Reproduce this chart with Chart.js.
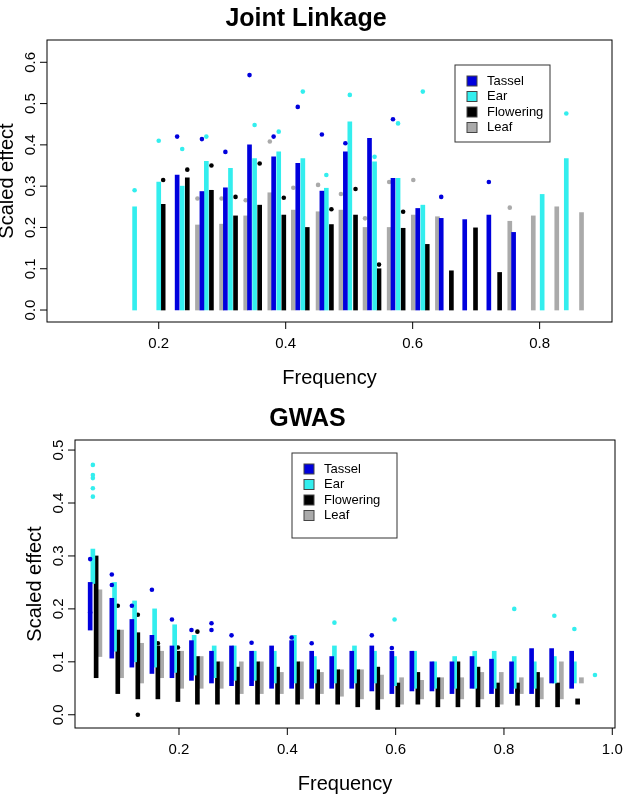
<!DOCTYPE html>
<html>
<head>
<meta charset="utf-8">
<script src="https://cdn.jsdelivr.net/npm/chart.js@4.4.0/dist/chart.umd.min.js"></script>
<style>
  body { margin: 0; background: #fff; }
  .box { width: 625px; height: 400px; position: relative; }
</style>
</head>
<body>
<div class="box"><canvas id="jl"></canvas></div>
<div class="box"><canvas id="gwas"></canvas></div>
<script>
// ===================== DADOS =====================
const traits = ["Tassel", "Ear", "Flowering", "Leaf"];
const traitColors = ["#0000dd", "#33eeee", "#000000", "#aaaaaa"];

// Joint linkage: [frequency, dense top, highest point]
const jlTassel = [[0.229,0.327,0.42],[0.268,0.287,0.414],[0.305,0.296,0.383],[0.343,0.40,0.569],[0.381,0.371,0.42],[0.419,0.355,0.492],[0.457,0.288,0.425],[0.494,0.383,0.404],[0.532,0.416,null],[0.569,0.319,0.462],[0.608,0.246,null],[0.645,0.222,0.274],[0.682,0.219,null],[0.720,0.23,0.31],[0.759,0.188,null]];
const jlEar = [[0.162,0.25,0.29],[0.200,0.31,0.41],[0.237,0.30,0.39],[0.275,0.36,0.42],[0.313,0.343,null],[0.351,0.367,0.448],[0.389,0.383,0.432],[0.427,0.367,0.529],[0.464,0.295,0.327],[0.501,0.456,0.521],[0.540,0.359,0.371],[0.577,0.319,0.452],[0.616,0.254,0.529],[0.804,0.28,null],[0.842,0.367,0.476]];
const jlFlowering = [[0.207,0.256,0.315],[0.245,0.32,0.34],[0.283,0.29,0.35],[0.321,0.228,0.274],[0.359,0.254,0.355],[0.397,0.23,0.272],[0.434,0.20,null],[0.472,0.207,0.244],[0.510,0.23,0.293],[0.547,0.10,0.11],[0.585,0.198,0.238],[0.623,0.159,null],[0.661,0.095,null],[0.699,0.199,null],[0.737,0.091,null]];
const jlLeaf = [[0.261,0.206,0.27],[0.299,0.208,0.27],[0.337,0.228,0.266],[0.375,0.284,0.408],[0.412,0.242,0.296],[0.451,0.238,0.303],[0.487,0.242,0.281],[0.525,0.20,0.222],[0.563,0.20,0.31],[0.601,0.23,0.315],[0.639,0.226,null],[0.753,0.215,0.248],[0.790,0.228,null],[0.827,0.25,null],[0.866,0.236,null]];

// GWAS: frequency bins and [low, high] per trait
const gwasFreq = [0.036,0.076,0.113,0.150,0.187,0.223,0.260,0.297,0.334,0.371,0.408,0.445,0.482,0.519,0.556,0.593,0.630,0.667,0.704,0.741,0.777,0.814,0.851,0.888,0.925];
const gwasTassel = [[0.16,0.25],[0.107,0.22],[0.09,0.18],[0.078,0.15],[0.07,0.13],[0.065,0.14],[0.06,0.12],[0.055,0.13],[0.055,0.12],[0.05,0.13],[0.05,0.14],[0.05,0.12],[0.05,0.11],[0.05,0.12],[0.045,0.13],[0.04,0.12],[0.045,0.12],[0.045,0.10],[0.04,0.10],[0.05,0.11],[0.04,0.105],[0.04,0.10],[0.04,0.125],[0.06,0.125],[0.05,0.12]];
const gwasEar = [[0.248,0.313],[0.12,0.25],[0.10,0.215],[0.09,0.20],[0.08,0.17],[0.075,0.15],[0.07,0.13],[0.065,0.13],[0.065,0.12],[0.06,0.12],[0.06,0.15],[0.06,0.11],[0.06,0.13],[0.06,0.13],[0.06,0.12],[0.055,0.11],[0.05,0.12],[0.05,0.10],[0.05,0.11],[0.05,0.12],[0.05,0.12],[0.05,0.11],[0.05,0.10],[0.06,0.11],[0.06,0.10]];
const gwasFlowering = [[0.07,0.30],[0.04,0.16],[0.03,0.155],[0.03,0.13],[0.025,0.12],[0.02,0.11],[0.02,0.10],[0.02,0.09],[0.02,0.10],[0.02,0.09],[0.02,0.10],[0.02,0.085],[0.02,0.085],[0.015,0.085],[0.01,0.09],[0.015,0.06],[0.02,0.08],[0.015,0.07],[0.015,0.10],[0.015,0.09],[0.015,0.06],[0.018,0.06],[0.015,0.08],[0.015,0.06],[0.02,0.03]];
const gwasLeaf = [[0.11,0.236],[0.07,0.16],[0.06,0.135],[0.07,0.12],[0.05,0.12],[0.05,0.11],[0.05,0.10],[0.04,0.10],[0.04,0.10],[0.04,0.08],[0.03,0.10],[0.04,0.08],[0.035,0.085],[0.03,0.085],[0.03,0.075],[0.02,0.07],[0.03,0.065],[0.03,0.07],[0.03,0.07],[0.03,0.08],[0.02,0.08],[0.04,0.07],[0.03,0.07],[0.03,0.10],[0.06,0.07]];
// GWAS outlying points: [bin index, value]
const gwasTasselPts = [[0,0.294],[0,0.193],[1,0.265],[1,0.245],[2,0.206],[3,0.236],[4,0.18],[5,0.16],[6,0.173],[6,0.16],[7,0.15],[8,0.136],[10,0.146],[11,0.135],[14,0.15],[15,0.126]];
const gwasEarPts = [[0,0.472],[0,0.453],[0,0.447],[0,0.428],[0,0.412],[12,0.174],[15,0.18],[21,0.2],[23,0.187],[24,0.162]];
const gwasEarExtra = [[0.968,0.075]];
const gwasFloweringPts = [[1,0.206],[2,0.189],[2,0.0],[3,0.135],[4,0.127],[5,0.157],[21,0.045]];

// ===================== PLUGIN =====================
const frame = {
    id: "frame",
    afterDraw(chart, args, o) {
        const c = chart.ctx, a = chart.chartArea;
        const xs = chart.scales.x, ys = chart.scales.y;
        c.save();
        c.strokeStyle = "#000"; c.fillStyle = "#000"; c.lineWidth = 1;
        c.strokeRect(a.left, a.top, a.right - a.left, a.bottom - a.top);
        c.font = "15px 'Liberation Sans', Arial";
        c.textAlign = "center"; c.textBaseline = "middle";
        o.xTicks.forEach(v => {
            const x = xs.getPixelForValue(v);
            c.beginPath(); c.moveTo(x, a.bottom); c.lineTo(x, a.bottom + 7); c.stroke();
            c.fillText(String(v.toFixed(1)), x, a.bottom + 22);
        });
        o.yTicks.forEach(v => {
            const y = ys.getPixelForValue(v);
            c.beginPath(); c.moveTo(a.left, y); c.lineTo(a.left - 7, y); c.stroke();
            c.save(); c.translate(a.left - 16, y); c.rotate(-Math.PI / 2);
            c.fillText(v.toFixed(1), 0, 0); c.restore();
        });
        c.font = "20px 'Liberation Sans', Arial";
        c.fillText("Frequency", (a.left + a.right) / 2, a.bottom + 56);
        c.save(); c.translate(a.left - 40, (a.top + a.bottom) / 2); c.rotate(-Math.PI / 2);
        c.fillText("Scaled effect", 0, 0); c.restore();
        // legenda
        const L = o.legend;
        c.fillStyle = "#fff"; c.fillRect(L.x, L.y, L.w, L.h);
        c.strokeStyle = "#333"; c.strokeRect(L.x, L.y, L.w, L.h);
        c.font = "13px 'Liberation Sans', Arial"; c.textAlign = "left";
        traits.forEach((t, i) => {
            const yy = L.y + 16 + i * 15.5;
            c.fillStyle = traitColors[i]; c.fillRect(L.x + 12, yy - 5, 10, 10);
            c.strokeStyle = "#444"; c.strokeRect(L.x + 12, yy - 5, 10, 10);
            c.fillStyle = "#000"; c.fillText(t, L.x + 32, yy);
        });
        c.restore();
    }
};

function baseOptions(xmin, xmax, ymin, ymax, yWidth, xHeight, title, pad, extra) {
    return {
        responsive: false, animation: false,
        layout: { padding: pad },
        plugins: {
            legend: { display: false }, tooltip: { enabled: false },
            title: { display: true, text: title, color: "#000",
                     font: { family: "'Liberation Sans', Arial", size: 25, weight: "bold" },
                     padding: { top: 4, bottom: 6 } },
            frame: extra
        },
        scales: {
            x: { type: "linear", min: xmin, max: xmax, offset: false,
                 grid: { display: false }, border: { display: false }, ticks: { display: false },
                 afterFit: s => { s.height = xHeight; } },
            y: { type: "linear", min: ymin, max: ymax,
                 grid: { display: false }, border: { display: false }, ticks: { display: false },
                 afterFit: s => { s.width = yWidth; } }
        }
    };
}

function barSet(rows, color) {
    return { type: "bar", data: rows, backgroundColor: color, barThickness: 4, grouped: false };
}
function ptSet(pts, color) {
    return { type: "scatter", data: pts, backgroundColor: color, borderWidth: 0, pointRadius: 2.3 };
}

// ===================== JOINT LINKAGE =====================
const jlSeries = [jlTassel, jlEar, jlFlowering, jlLeaf];
const jlDatasets = [];
jlSeries.forEach((s, i) => {
    jlDatasets.push(barSet(s.map(r => ({ x: r[0], y: [0, r[1]] })), traitColors[i]));
    jlDatasets.push(ptSet(s.filter(r => r[2] !== null).map(r => ({ x: r[0], y: r[2] })), traitColors[i]));
});
const jlCanvas = document.getElementById("jl");
jlCanvas.width = 625; jlCanvas.height = 400;
new Chart(jlCanvas, {
    data: { datasets: jlDatasets },
    options: baseOptions(0.024, 0.914, -0.029, 0.654, 47, 78, "Joint Linkage",
        { left: 0, right: 13, top: 0, bottom: 0 },
        { xTicks: [0.2, 0.4, 0.6, 0.8], yTicks: [0, 0.1, 0.2, 0.3, 0.4, 0.5, 0.6],
          legend: { x: 455, y: 65, w: 95, h: 77 } }),
    plugins: [frame]
});

// ===================== GWAS =====================
const gwasSeries = [gwasTassel, gwasEar, gwasFlowering, gwasLeaf];
const gwasPts = [gwasTasselPts, gwasEarPts, gwasFloweringPts, []];
const shift = [0, 0.005, 0.011, 0.018];
const gwasDatasets = [];
gwasSeries.forEach((s, i) => {
    gwasDatasets.push(barSet(s.map((r, k) => ({ x: gwasFreq[k] + shift[i], y: r })), traitColors[i]));
    gwasDatasets.push(ptSet(gwasPts[i].map(p => ({ x: gwasFreq[p[0]] + shift[i], y: p[1] })), traitColors[i]));
});
gwasDatasets.push(ptSet(gwasEarExtra.map(p => ({ x: p[0], y: p[1] })), traitColors[1]));
const gwCanvas = document.getElementById("gwas");
gwCanvas.width = 625; gwCanvas.height = 400;
new Chart(gwCanvas, {
    data: { datasets: gwasDatasets },
    options: baseOptions(0.008, 1.005, -0.025, 0.519, 75, 72, "GWAS",
        { left: 0, right: 10, top: 0, bottom: 0 },
        { xTicks: [0.2, 0.4, 0.6, 0.8, 1.0], yTicks: [0, 0.1, 0.2, 0.3, 0.4, 0.5],
          legend: { x: 292, y: 53, w: 105, h: 85 } }),
    plugins: [frame]
});
</script>
</body>
</html>
